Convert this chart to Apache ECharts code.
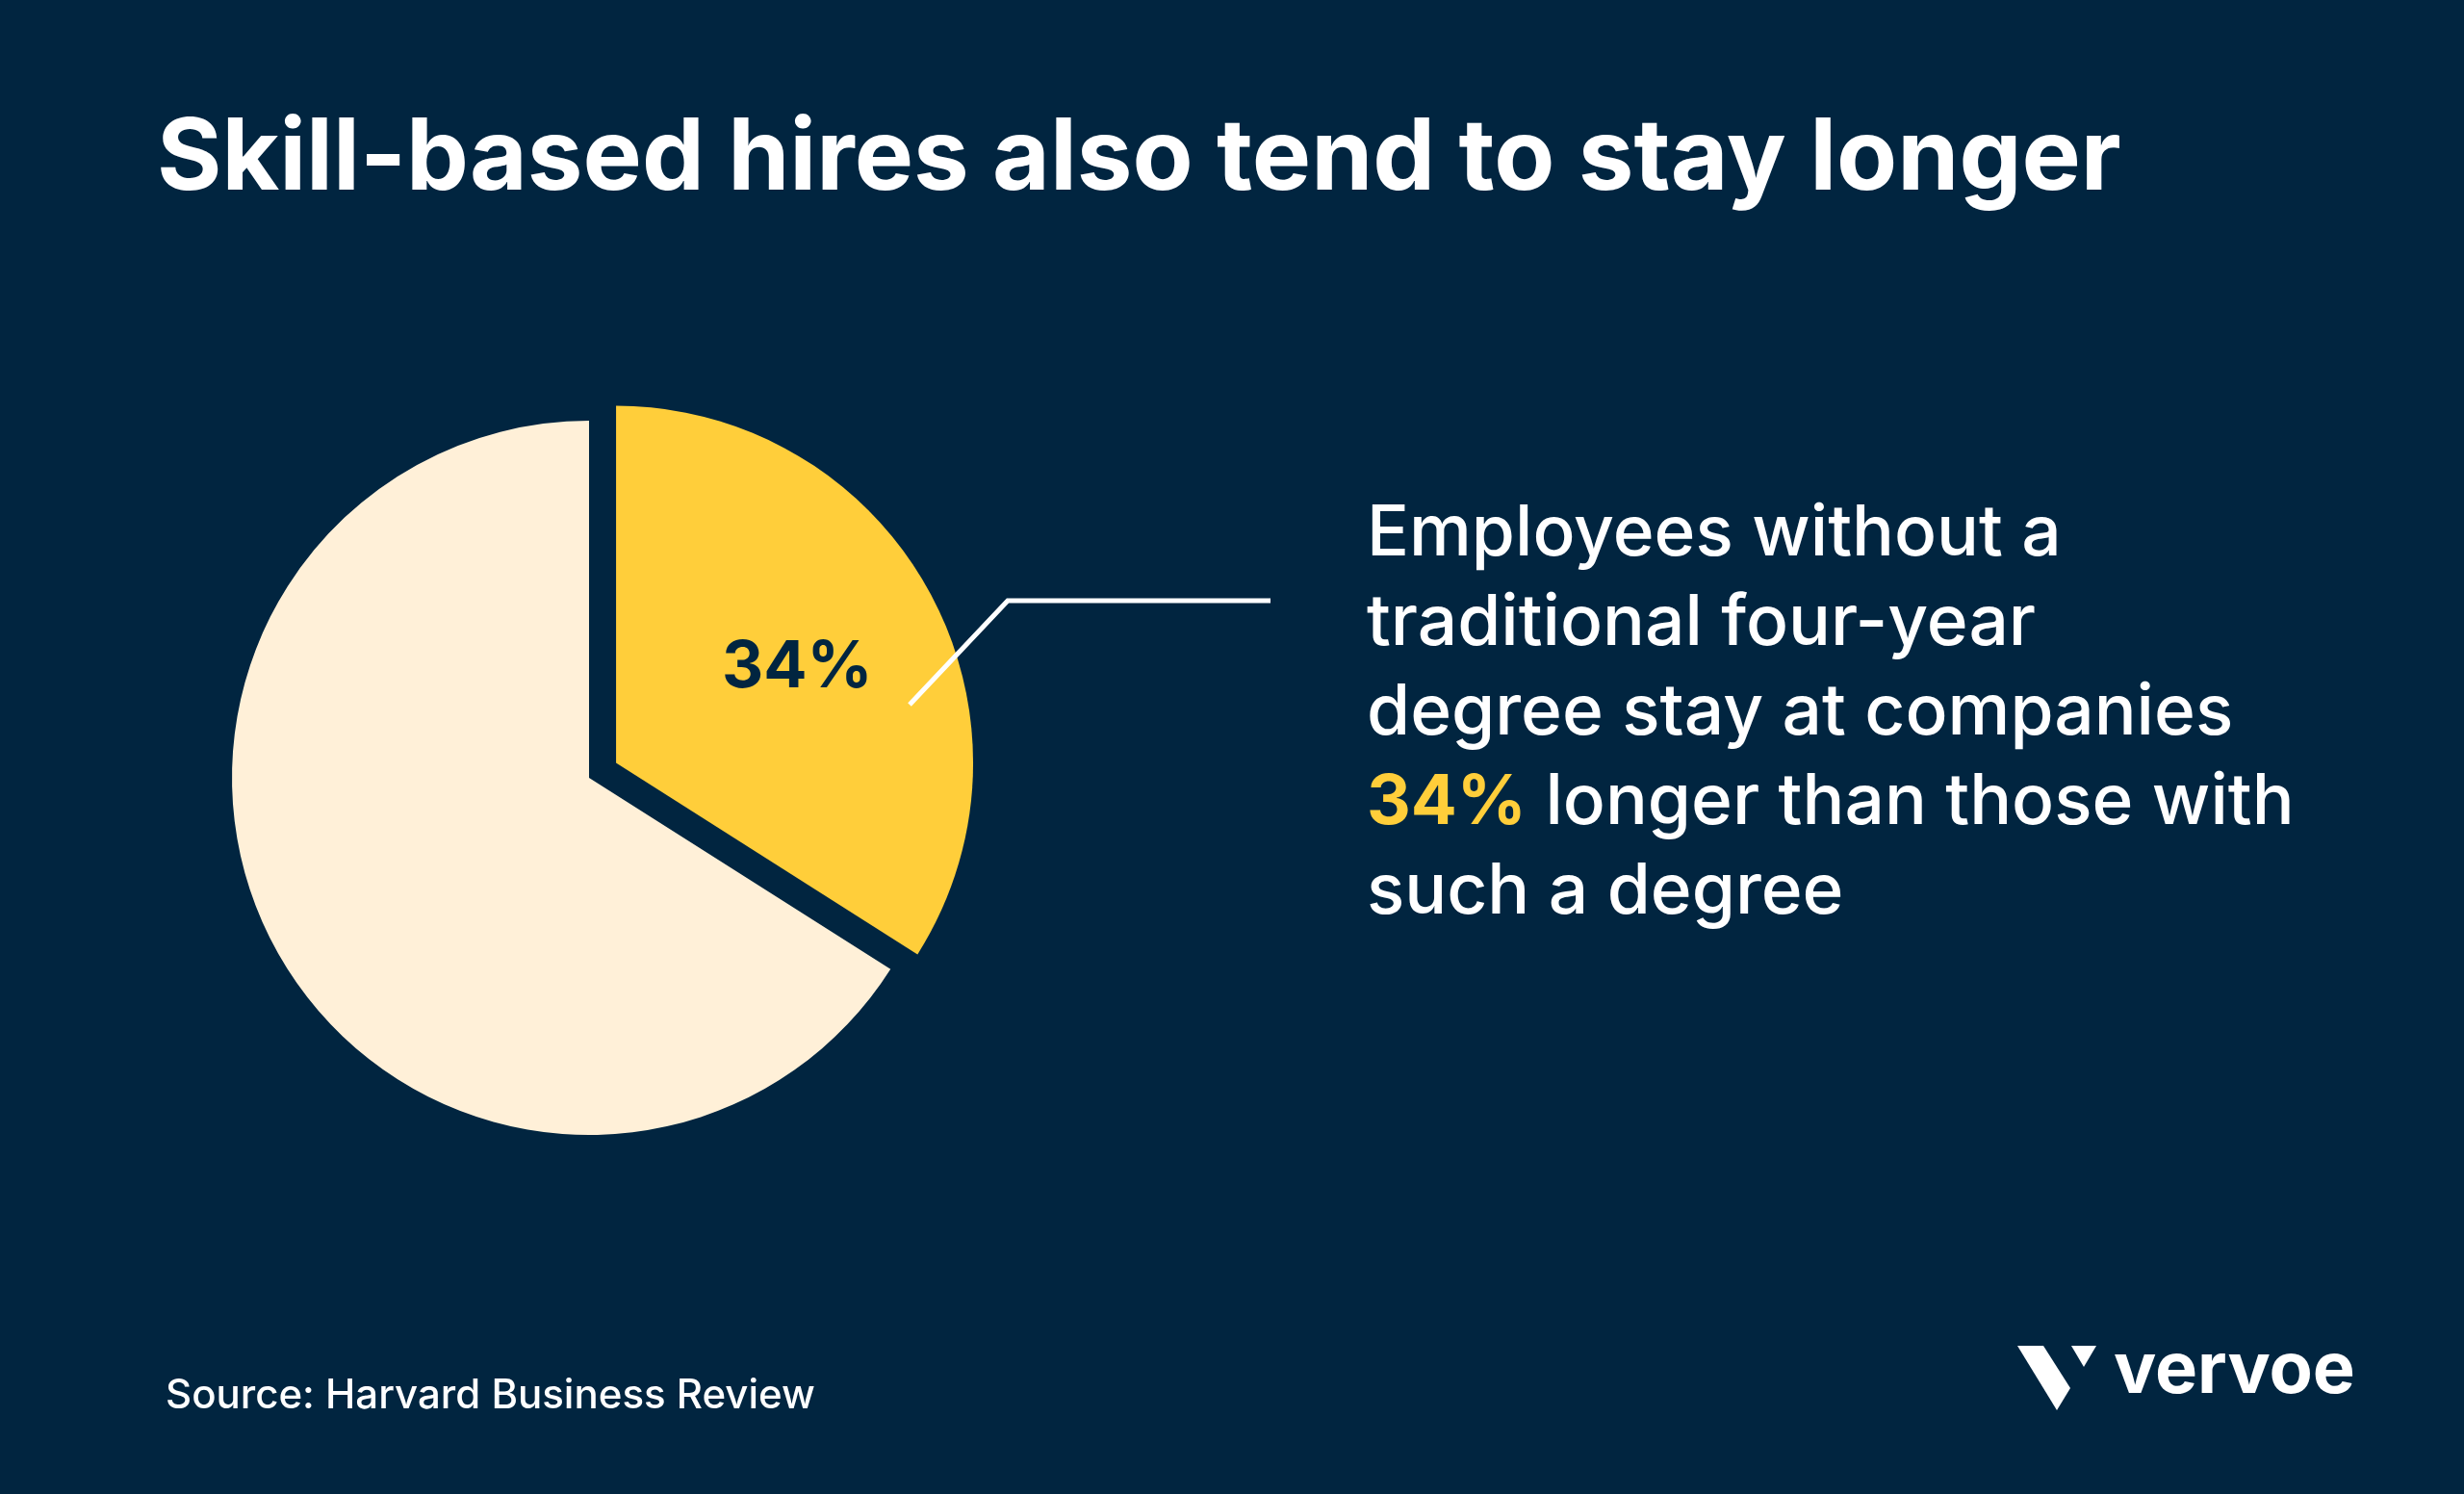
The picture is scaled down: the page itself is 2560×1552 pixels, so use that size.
<!DOCTYPE html>
<html>
<head>
<meta charset="utf-8">
<script src="https://cdn.jsdelivr.net/npm/echarts@6/dist/echarts.min.js"></script>
<style>
html,body{margin:0;padding:0;background:#012540;}
#chart{width:2560px;height:1552px;}
</style>
</head>
<body>
<div id="chart"></div>
<script>
// ---- data ----
const sliceNames = ['Employees without a four-year degree', 'Employees with a four-year degree'];
const sliceValues = [34, 66];
const titleText = 'Skill-based hires also tend to stay longer';
const bodyLines = [
  'Employees without a',
  'traditional four-year',
  'degree stay at companies',
  '{hi|34%} longer than those with',
  'such a degree'
];
const sourceText = 'Source: Harvard Business Review';
const brandText = 'vervoe';

// ---- styles ----
const BG = '#012540';
const YELLOW = '#FFCE3A';
const CREAM = '#FFF0D8';
const FONT = 'Inter, "Noto Sans", sans-serif';

const chart = echarts.init(document.getElementById('chart'), null, {renderer: 'canvas'});

const pieData = sliceNames.map((n, i) => ({
  name: n,
  value: sliceValues[i],
  selected: i === 0,
  itemStyle: {color: i === 0 ? YELLOW : CREAM},
  label: i === 0 ? {show: true} : {show: false}
}));

const option = {
  backgroundColor: BG,
  animation: false,
  series: [{
    type: 'pie',
    z: 2,
    center: [612, 808],
    radius: [0, 371],
    startAngle: 90,
    clockwise: true,
    selectedMode: 'single',
    selectedOffset: 32,
    silent: true,
    emphasis: {disabled: true},
    label: {
      position: 'inside',
      formatter: '{c}%',
      color: BG,
      fontFamily: FONT,
      fontWeight: 700,
      fontSize: 67,
      letterSpacing: -4
    },
    labelLayout: {dx: 23, dy: -8},
    labelLine: {show: false},
    data: pieData
  }],
  graphic: [
    {
      type: 'text', x: 163, y: 166, z: 100,
      style: {text: titleText, fill: '#FFFFFF', font: '700 103px ' + FONT, verticalAlign: 'middle', align: 'left'}
    },
    {
      type: 'polyline', z: 100,
      shape: {points: [[945, 732], [1047, 624], [1320, 624]]},
      style: {stroke: '#FFFFFF', lineWidth: 5, fill: null, lineCap: 'butt', lineJoin: 'miter'}
    },
    {
      type: 'text', x: 1420, y: 509, z: 100,
      style: {
        text: bodyLines.join('\n'),
        fill: '#FFFFFF',
        font: '500 73px ' + FONT,
        lineHeight: 93,
        verticalAlign: 'top',
        align: 'left',
        rich: {
          hi: {fill: YELLOW, font: '700 71px ' + FONT, lineHeight: 93, letterSpacing: -6}
        }
      }
    },
    {
      type: 'text', x: 172, y: 1450, z: 100,
      style: {text: sourceText, fill: '#FFFFFF', font: '500 42px ' + FONT, verticalAlign: 'middle', align: 'left'}
    },
    {
      type: 'polygon', z: 100,
      shape: {points: [[2096, 1398], [2123, 1398], [2151, 1442], [2137, 1465]]},
      style: {fill: '#FFFFFF'}
    },
    {
      type: 'polygon', z: 100,
      shape: {points: [[2152, 1398], [2178, 1398], [2165, 1420]]},
      style: {fill: '#FFFFFF'}
    },
    {
      type: 'text', x: 2196, y: 1425, z: 100,
      style: {text: brandText, fill: '#FFFFFF', font: '700 74px ' + FONT, verticalAlign: 'middle', align: 'left'}
    }
  ]
};
chart.setOption(option);
</script>
</body>
</html>
